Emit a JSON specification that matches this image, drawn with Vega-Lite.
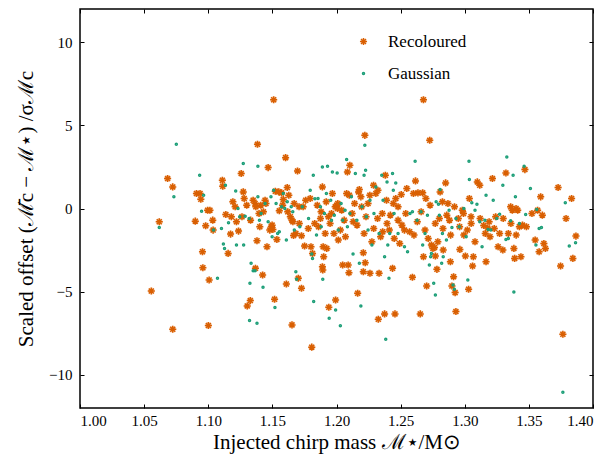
{
  "$schema": "https://vega.github.io/schema/vega-lite/v6.json",
  "width": 513,
  "height": 399,
  "autosize": "none",
  "padding": {"left": 80, "top": 9, "right": 20, "bottom": 47},
  "background": "white",
  "config": {
    "view": {"stroke": "black", "strokeWidth": 1.5},
    "font": "Liberation Serif",
    "axis": {"grid": false, "domain": false, "tickColor": "black", "tickSize": 4, "tickWidth": 1, "offset": -4, "labelColor": "black", "labelFont": "Liberation Serif", "labelFontSize": 15, "titleFont": "Liberation Serif", "titleFontWeight": "normal", "titleColor": "black", "titleFontSize": 21},
    "legend": {"labelFont": "Liberation Serif", "labelFontSize": 17, "labelColor": "black"}
  },
  "data": {"values": [
    {"m":1.0556,"d":-4.96,"s":"Recoloured"},{"m":1.0618,"d":-0.8,"s":"Recoloured"},{"m":1.0683,"d":1.8,"s":"Recoloured"},{"m":1.0723,"d":1.3,"s":"Recoloured"},{"m":1.0723,"d":-7.26,"s":"Recoloured"},
    {"m":1.0899,"d":-0.76,"s":"Recoloured"},{"m":1.0908,"d":0.9,"s":"Recoloured"},{"m":1.0936,"d":0.9,"s":"Recoloured"},{"m":1.0942,"d":0.56,"s":"Recoloured"},{"m":1.0955,"d":-2.6,"s":"Recoloured"},
    {"m":1.0958,"d":-3.56,"s":"Recoloured"},{"m":1.098,"d":-1.04,"s":"Recoloured"},{"m":1.0995,"d":-0.1,"s":"Recoloured"},{"m":1.1013,"d":-0.1,"s":"Recoloured"},{"m":1.1007,"d":-4.3,"s":"Recoloured"},
    {"m":1.1001,"d":-7.04,"s":"Recoloured"},{"m":1.1035,"d":-0.7,"s":"Recoloured"},{"m":1.1038,"d":-1.3,"s":"Recoloured"},{"m":1.111,"d":1.7,"s":"Recoloured"},{"m":1.1113,"d":1.34,"s":"Recoloured"},
    {"m":1.1137,"d":-0.36,"s":"Recoloured"},{"m":1.1155,"d":-2.7,"s":"Recoloured"},{"m":1.1174,"d":-1.54,"s":"Recoloured"},{"m":1.1192,"d":0.4,"s":"Recoloured"},{"m":1.121,"d":0.1,"s":"Recoloured"},
    {"m":1.1236,"d":-1.36,"s":"Recoloured"},{"m":1.1257,"d":2.1,"s":"Recoloured"},{"m":1.1263,"d":-0.5,"s":"Recoloured"},{"m":1.1273,"d":1.0,"s":"Recoloured"},{"m":1.128,"d":0.6,"s":"Recoloured"},
    {"m":1.1304,"d":-5.86,"s":"Recoloured"},{"m":1.1328,"d":-5.54,"s":"Recoloured"},{"m":1.135,"d":0.5,"s":"Recoloured"},{"m":1.1365,"d":0.3,"s":"Recoloured"},{"m":1.1371,"d":0.1,"s":"Recoloured"},
    {"m":1.1368,"d":-3.6,"s":"Recoloured"},{"m":1.138,"d":-1.94,"s":"Recoloured"},{"m":1.1384,"d":3.86,"s":"Recoloured"},{"m":1.1396,"d":-0.3,"s":"Recoloured"},{"m":1.1402,"d":-1.1,"s":"Recoloured"},
    {"m":1.1424,"d":-4.0,"s":"Recoloured"},{"m":1.1443,"d":0.5,"s":"Recoloured"},{"m":1.1458,"d":-2.3,"s":"Recoloured"},{"m":1.1467,"d":2.46,"s":"Recoloured"},{"m":1.1492,"d":-1.1,"s":"Recoloured"},
    {"m":1.1498,"d":-1.0,"s":"Recoloured"},{"m":1.1504,"d":-1.26,"s":"Recoloured"},{"m":1.151,"d":6.54,"s":"Recoloured"},{"m":1.1517,"d":-5.46,"s":"Recoloured"},{"m":1.1523,"d":1.04,"s":"Recoloured"},
    {"m":1.1535,"d":-1.86,"s":"Recoloured"},{"m":1.1554,"d":-0.14,"s":"Recoloured"},{"m":1.1572,"d":0.94,"s":"Recoloured"},{"m":1.1585,"d":0.54,"s":"Recoloured"},{"m":1.1603,"d":3.06,"s":"Recoloured"},
    {"m":1.1609,"d":-4.54,"s":"Recoloured"},{"m":1.1616,"d":1.26,"s":"Recoloured"},{"m":1.1628,"d":0.8,"s":"Recoloured"},{"m":1.164,"d":-0.5,"s":"Recoloured"},{"m":1.1653,"d":-0.7,"s":"Recoloured"},
    {"m":1.166,"d":-0.8,"s":"Recoloured"},{"m":1.1653,"d":-7.0,"s":"Recoloured"},{"m":1.1665,"d":-1.62,"s":"Recoloured"},{"m":1.1683,"d":-1.5,"s":"Recoloured"},{"m":1.1696,"d":2.26,"s":"Recoloured"},
    {"m":1.1702,"d":-4.2,"s":"Recoloured"},{"m":1.1708,"d":0.1,"s":"Recoloured"},{"m":1.1727,"d":-1.64,"s":"Recoloured"},{"m":1.1727,"d":-4.8,"s":"Recoloured"},{"m":1.174,"d":0.1,"s":"Recoloured"},
    {"m":1.1751,"d":-2.26,"s":"Recoloured"},{"m":1.1795,"d":0.6,"s":"Recoloured"},{"m":1.1801,"d":-2.3,"s":"Recoloured"},{"m":1.1807,"d":-8.34,"s":"Recoloured"},{"m":1.1813,"d":-2.7,"s":"Recoloured"},
    {"m":1.186,"d":-1.1,"s":"Recoloured"},{"m":1.1875,"d":-0.6,"s":"Recoloured"},{"m":1.189,"d":1.3,"s":"Recoloured"},{"m":1.189,"d":-3.5,"s":"Recoloured"},{"m":1.1893,"d":-3.7,"s":"Recoloured"},
    {"m":1.1896,"d":-2.3,"s":"Recoloured"},{"m":1.19,"d":-2.9,"s":"Recoloured"},{"m":1.1912,"d":-1.5,"s":"Recoloured"},{"m":1.1924,"d":-2.4,"s":"Recoloured"},{"m":1.1937,"d":-0.5,"s":"Recoloured"},
    {"m":1.194,"d":-5.94,"s":"Recoloured"},{"m":1.1961,"d":-0.3,"s":"Recoloured"},{"m":1.1968,"d":0.9,"s":"Recoloured"},{"m":1.199,"d":0.1,"s":"Recoloured"},{"m":1.2002,"d":0.2,"s":"Recoloured"},
    {"m":1.2008,"d":0.0,"s":"Recoloured"},{"m":1.1993,"d":-5.5,"s":"Recoloured"},{"m":1.2014,"d":-1.9,"s":"Recoloured"},{"m":1.203,"d":-1.3,"s":"Recoloured"},{"m":1.2048,"d":-3.4,"s":"Recoloured"},
    {"m":1.206,"d":-0.7,"s":"Recoloured"},{"m":1.2079,"d":0.9,"s":"Recoloured"},{"m":1.2085,"d":2.2,"s":"Recoloured"},{"m":1.2091,"d":-3.4,"s":"Recoloured"},{"m":1.2097,"d":-3.86,"s":"Recoloured"},
    {"m":1.2104,"d":2.6,"s":"Recoloured"},{"m":1.2122,"d":-0.3,"s":"Recoloured"},{"m":1.2141,"d":0.3,"s":"Recoloured"},{"m":1.2165,"d":-5.1,"s":"Recoloured"},{"m":1.2172,"d":1.0,"s":"Recoloured"},
    {"m":1.2178,"d":1.14,"s":"Recoloured"},{"m":1.2196,"d":0.1,"s":"Recoloured"},{"m":1.2209,"d":-2.66,"s":"Recoloured"},{"m":1.2209,"d":-3.8,"s":"Recoloured"},{"m":1.2215,"d":-1.5,"s":"Recoloured"},
    {"m":1.2221,"d":4.4,"s":"Recoloured"},{"m":1.2224,"d":-3.26,"s":"Recoloured"},{"m":1.2246,"d":0.3,"s":"Recoloured"},{"m":1.2261,"d":-3.9,"s":"Recoloured"},{"m":1.2276,"d":-2.0,"s":"Recoloured"},
    {"m":1.2289,"d":1.4,"s":"Recoloured"},{"m":1.2307,"d":0.9,"s":"Recoloured"},{"m":1.2323,"d":1.1,"s":"Recoloured"},{"m":1.2326,"d":-6.66,"s":"Recoloured"},{"m":1.2332,"d":-3.9,"s":"Recoloured"},
    {"m":1.2344,"d":-1.7,"s":"Recoloured"},{"m":1.2357,"d":-0.3,"s":"Recoloured"},{"m":1.2375,"d":-6.34,"s":"Recoloured"},{"m":1.2381,"d":2.0,"s":"Recoloured"},{"m":1.2394,"d":-0.9,"s":"Recoloured"},
    {"m":1.2412,"d":-1.3,"s":"Recoloured"},{"m":1.2437,"d":-3.6,"s":"Recoloured"},{"m":1.2443,"d":0.3,"s":"Recoloured"},{"m":1.2456,"d":-6.34,"s":"Recoloured"},{"m":1.2462,"d":0.6,"s":"Recoloured"},
    {"m":1.248,"d":-0.7,"s":"Recoloured"},{"m":1.2493,"d":-2.1,"s":"Recoloured"},{"m":1.2505,"d":0.84,"s":"Recoloured"},{"m":1.253,"d":-1.3,"s":"Recoloured"},{"m":1.2548,"d":1.2,"s":"Recoloured"},
    {"m":1.2592,"d":-4.14,"s":"Recoloured"},{"m":1.2604,"d":-1.6,"s":"Recoloured"},{"m":1.2616,"d":1.66,"s":"Recoloured"},{"m":1.2635,"d":0.94,"s":"Recoloured"},{"m":1.2653,"d":-6.34,"s":"Recoloured"},
    {"m":1.2672,"d":0.94,"s":"Recoloured"},{"m":1.2678,"d":6.54,"s":"Recoloured"},{"m":1.2678,"d":-2.9,"s":"Recoloured"},{"m":1.2697,"d":0.6,"s":"Recoloured"},{"m":1.2703,"d":-4.66,"s":"Recoloured"},
    {"m":1.2715,"d":-1.8,"s":"Recoloured"},{"m":1.2727,"d":4.1,"s":"Recoloured"},{"m":1.274,"d":-2.2,"s":"Recoloured"},{"m":1.2752,"d":-2.4,"s":"Recoloured"},{"m":1.2764,"d":-2.34,"s":"Recoloured"},
    {"m":1.2771,"d":-2.86,"s":"Recoloured"},{"m":1.2783,"d":-3.66,"s":"Recoloured"},{"m":1.2802,"d":-0.6,"s":"Recoloured"},{"m":1.2808,"d":1.0,"s":"Recoloured"},{"m":1.2826,"d":0.4,"s":"Recoloured"},
    {"m":1.2832,"d":-2.5,"s":"Recoloured"},{"m":1.2851,"d":1.54,"s":"Recoloured"},{"m":1.2869,"d":0.3,"s":"Recoloured"},{"m":1.2881,"d":-0.7,"s":"Recoloured"},{"m":1.2888,"d":-3.2,"s":"Recoloured"},
    {"m":1.29,"d":-4.66,"s":"Recoloured"},{"m":1.2913,"d":-4.1,"s":"Recoloured"},{"m":1.2925,"d":-5.06,"s":"Recoloured"},{"m":1.2931,"d":-6.2,"s":"Recoloured"},{"m":1.295,"d":-0.6,"s":"Recoloured"},
    {"m":1.2962,"d":-2.46,"s":"Recoloured"},{"m":1.2981,"d":-0.1,"s":"Recoloured"},{"m":1.2993,"d":-1.6,"s":"Recoloured"},{"m":1.3005,"d":-2.86,"s":"Recoloured"},{"m":1.303,"d":-4.86,"s":"Recoloured"},
    {"m":1.3036,"d":0.6,"s":"Recoloured"},{"m":1.3049,"d":-0.5,"s":"Recoloured"},{"m":1.3061,"d":-3.46,"s":"Recoloured"},{"m":1.3067,"d":-2.9,"s":"Recoloured"},{"m":1.3098,"d":1.6,"s":"Recoloured"},
    {"m":1.3117,"d":1.4,"s":"Recoloured"},{"m":1.3148,"d":-1.02,"s":"Recoloured"},{"m":1.3166,"d":-3.2,"s":"Recoloured"},{"m":1.3179,"d":-1.18,"s":"Recoloured"},{"m":1.3197,"d":-1.7,"s":"Recoloured"},
    {"m":1.3216,"d":1.8,"s":"Recoloured"},{"m":1.3241,"d":-0.5,"s":"Recoloured"},{"m":1.326,"d":-2.3,"s":"Recoloured"},{"m":1.3272,"d":-1.5,"s":"Recoloured"},{"m":1.3297,"d":-2.5,"s":"Recoloured"},
    {"m":1.3321,"d":2.14,"s":"Recoloured"},{"m":1.334,"d":-1.5,"s":"Recoloured"},{"m":1.3358,"d":0.1,"s":"Recoloured"},{"m":1.3371,"d":-0.1,"s":"Recoloured"},{"m":1.3383,"d":-2.4,"s":"Recoloured"},
    {"m":1.3389,"d":-3.0,"s":"Recoloured"},{"m":1.3401,"d":-1.6,"s":"Recoloured"},{"m":1.3413,"d":-0.1,"s":"Recoloured"},{"m":1.3426,"d":-1.1,"s":"Recoloured"},{"m":1.3438,"d":-2.9,"s":"Recoloured"},
    {"m":1.3469,"d":2.34,"s":"Recoloured"},{"m":1.3481,"d":-1.1,"s":"Recoloured"},{"m":1.3524,"d":-0.3,"s":"Recoloured"},{"m":1.3549,"d":-1.9,"s":"Recoloured"},{"m":1.3568,"d":-0.1,"s":"Recoloured"},
    {"m":1.358,"d":-2.6,"s":"Recoloured"},{"m":1.3592,"d":0.7,"s":"Recoloured"},{"m":1.3605,"d":-0.4,"s":"Recoloured"},{"m":1.3617,"d":-2.1,"s":"Recoloured"},{"m":1.3629,"d":-2.4,"s":"Recoloured"},
    {"m":1.3728,"d":1.26,"s":"Recoloured"},{"m":1.3747,"d":-3.46,"s":"Recoloured"},{"m":1.3765,"d":-7.56,"s":"Recoloured"},{"m":1.379,"d":-0.6,"s":"Recoloured"},{"m":1.3833,"d":0.6,"s":"Recoloured"},
    {"m":1.3843,"d":-3.0,"s":"Recoloured"},{"m":1.3867,"d":-1.66,"s":"Recoloured"},
    {"m":1.118,"d":-0.5,"s":"Recoloured"},{"m":1.122,"d":-0.8,"s":"Recoloured"},{"m":1.13,"d":0.2,"s":"Recoloured"},{"m":1.133,"d":-0.7,"s":"Recoloured"},{"m":1.141,"d":0.2,"s":"Recoloured"},
    {"m":1.143,"d":-0.2,"s":"Recoloured"},{"m":1.145,"d":0.3,"s":"Recoloured"},{"m":1.148,"d":-1.3,"s":"Recoloured"},{"m":1.155,"d":1.0,"s":"Recoloured"},{"m":1.158,"d":0.2,"s":"Recoloured"},
    {"m":1.162,"d":-0.2,"s":"Recoloured"},{"m":1.167,"d":0.3,"s":"Recoloured"},{"m":1.171,"d":-0.9,"s":"Recoloured"},{"m":1.176,"d":0.5,"s":"Recoloured"},{"m":1.178,"d":-1.2,"s":"Recoloured"},
    {"m":1.183,"d":-0.9,"s":"Recoloured"},{"m":1.185,"d":0.2,"s":"Recoloured"},{"m":1.188,"d":-0.2,"s":"Recoloured"},{"m":1.192,"d":0.4,"s":"Recoloured"},{"m":1.195,"d":-0.9,"s":"Recoloured"},
    {"m":1.198,"d":-1.5,"s":"Recoloured"},{"m":1.201,"d":0.3,"s":"Recoloured"},{"m":1.204,"d":-0.1,"s":"Recoloured"},{"m":1.207,"d":-1.7,"s":"Recoloured"},{"m":1.21,"d":0.8,"s":"Recoloured"},
    {"m":1.213,"d":-0.8,"s":"Recoloured"},{"m":1.216,"d":-1.0,"s":"Recoloured"},{"m":1.219,"d":0.7,"s":"Recoloured"},{"m":1.223,"d":-0.5,"s":"Recoloured"},{"m":1.226,"d":0.8,"s":"Recoloured"},
    {"m":1.229,"d":-1.2,"s":"Recoloured"},{"m":1.232,"d":-0.6,"s":"Recoloured"},{"m":1.236,"d":-1.4,"s":"Recoloured"},{"m":1.239,"d":0.5,"s":"Recoloured"},{"m":1.242,"d":-0.4,"s":"Recoloured"},
    {"m":1.245,"d":-1.8,"s":"Recoloured"},{"m":1.248,"d":0.1,"s":"Recoloured"},{"m":1.251,"d":-1.0,"s":"Recoloured"},{"m":1.254,"d":-0.3,"s":"Recoloured"},{"m":1.257,"d":-1.4,"s":"Recoloured"},
    {"m":1.26,"d":0.9,"s":"Recoloured"},{"m":1.263,"d":-0.8,"s":"Recoloured"},{"m":1.266,"d":-0.2,"s":"Recoloured"},{"m":1.269,"d":-1.3,"s":"Recoloured"},{"m":1.273,"d":0.2,"s":"Recoloured"},
    {"m":1.277,"d":-0.9,"s":"Recoloured"},{"m":1.279,"d":-2.0,"s":"Recoloured"},{"m":1.283,"d":-1.2,"s":"Recoloured"},{"m":1.286,"d":-0.4,"s":"Recoloured"},{"m":1.289,"d":-1.6,"s":"Recoloured"},
    {"m":1.292,"d":0.1,"s":"Recoloured"},{"m":1.296,"d":-1.1,"s":"Recoloured"},{"m":1.299,"d":-0.3,"s":"Recoloured"},{"m":1.302,"d":-1.3,"s":"Recoloured"},{"m":1.305,"d":-0.9,"s":"Recoloured"},
    {"m":1.308,"d":-2.0,"s":"Recoloured"},{"m":1.312,"d":-0.6,"s":"Recoloured"},{"m":1.316,"d":-1.5,"s":"Recoloured"},{"m":1.319,"d":-0.8,"s":"Recoloured"},{"m":1.323,"d":-1.2,"s":"Recoloured"},
    {"m":1.33,"d":-0.6,"s":"Recoloured"},{"m":1.336,"d":-0.9,"s":"Recoloured"},{"m":1.34,"d":0.0,"s":"Recoloured"},{"m":1.345,"d":-1.0,"s":"Recoloured"},
    {"m":1.0751,"d":3.86,"s":"Gaussian"},{"m":1.0732,"d":0.7,"s":"Gaussian"},{"m":1.0618,"d":-1.14,"s":"Gaussian"},{"m":1.0933,"d":2.0,"s":"Gaussian"},{"m":1.0948,"d":-0.16,"s":"Gaussian"},
    {"m":1.0964,"d":0.8,"s":"Gaussian"},{"m":1.1041,"d":-1.3,"s":"Gaussian"},{"m":1.1072,"d":-4.2,"s":"Gaussian"},{"m":1.1103,"d":-1.2,"s":"Gaussian"},{"m":1.1118,"d":-2.14,"s":"Gaussian"},
    {"m":1.1127,"d":-2.4,"s":"Gaussian"},{"m":1.1134,"d":1.4,"s":"Gaussian"},{"m":1.1158,"d":-0.86,"s":"Gaussian"},{"m":1.1214,"d":1.06,"s":"Gaussian"},{"m":1.122,"d":-2.2,"s":"Gaussian"},
    {"m":1.1232,"d":0.0,"s":"Gaussian"},{"m":1.1245,"d":-0.5,"s":"Gaussian"},{"m":1.1273,"d":2.7,"s":"Gaussian"},{"m":1.1276,"d":-2.2,"s":"Gaussian"},{"m":1.1288,"d":-0.46,"s":"Gaussian"},
    {"m":1.1319,"d":-0.6,"s":"Gaussian"},{"m":1.1325,"d":-4.5,"s":"Gaussian"},{"m":1.1322,"d":-6.74,"s":"Gaussian"},{"m":1.1334,"d":-3.3,"s":"Gaussian"},{"m":1.135,"d":-3.74,"s":"Gaussian"},
    {"m":1.1365,"d":-3.74,"s":"Gaussian"},{"m":1.138,"d":-6.9,"s":"Gaussian"},{"m":1.1387,"d":2.54,"s":"Gaussian"},{"m":1.1387,"d":0.7,"s":"Gaussian"},{"m":1.1399,"d":-0.7,"s":"Gaussian"},
    {"m":1.1412,"d":-0.3,"s":"Gaussian"},{"m":1.1427,"d":-4.74,"s":"Gaussian"},{"m":1.1443,"d":0.3,"s":"Gaussian"},{"m":1.1467,"d":-0.8,"s":"Gaussian"},{"m":1.1489,"d":0.7,"s":"Gaussian"},
    {"m":1.1498,"d":-1.7,"s":"Gaussian"},{"m":1.151,"d":1.1,"s":"Gaussian"},{"m":1.152,"d":-5.96,"s":"Gaussian"},{"m":1.1529,"d":0.3,"s":"Gaussian"},{"m":1.1541,"d":-1.5,"s":"Gaussian"},
    {"m":1.1554,"d":-1.4,"s":"Gaussian"},{"m":1.1572,"d":0.1,"s":"Gaussian"},{"m":1.1585,"d":0.9,"s":"Gaussian"},{"m":1.1597,"d":0.0,"s":"Gaussian"},{"m":1.1609,"d":-1.9,"s":"Gaussian"},
    {"m":1.1616,"d":0.4,"s":"Gaussian"},{"m":1.1647,"d":0.1,"s":"Gaussian"},{"m":1.1659,"d":-0.2,"s":"Gaussian"},{"m":1.1671,"d":-1.3,"s":"Gaussian"},{"m":1.1683,"d":-3.8,"s":"Gaussian"},
    {"m":1.1689,"d":-4.26,"s":"Gaussian"},{"m":1.1714,"d":-1.1,"s":"Gaussian"},{"m":1.1733,"d":0.1,"s":"Gaussian"},{"m":1.1782,"d":-0.6,"s":"Gaussian"},{"m":1.1795,"d":1.1,"s":"Gaussian"},
    {"m":1.1807,"d":-2.74,"s":"Gaussian"},{"m":1.1813,"d":-3.0,"s":"Gaussian"},{"m":1.1819,"d":2.0,"s":"Gaussian"},{"m":1.1822,"d":-5.6,"s":"Gaussian"},{"m":1.1832,"d":0.58,"s":"Gaussian"},
    {"m":1.1844,"d":-1.6,"s":"Gaussian"},{"m":1.1856,"d":0.6,"s":"Gaussian"},{"m":1.1875,"d":0.1,"s":"Gaussian"},{"m":1.1881,"d":-1.1,"s":"Gaussian"},{"m":1.189,"d":2.5,"s":"Gaussian"},
    {"m":1.1893,"d":-4.26,"s":"Gaussian"},{"m":1.1906,"d":-0.3,"s":"Gaussian"},{"m":1.1921,"d":0.9,"s":"Gaussian"},{"m":1.193,"d":2.54,"s":"Gaussian"},{"m":1.1943,"d":-6.6,"s":"Gaussian"},
    {"m":1.1955,"d":0.5,"s":"Gaussian"},{"m":1.1961,"d":-0.7,"s":"Gaussian"},{"m":1.1968,"d":2.2,"s":"Gaussian"},{"m":1.1983,"d":-0.4,"s":"Gaussian"},{"m":1.1993,"d":-6.1,"s":"Gaussian"},
    {"m":1.2005,"d":2.14,"s":"Gaussian"},{"m":1.2014,"d":-1.3,"s":"Gaussian"},{"m":1.203,"d":-7.06,"s":"Gaussian"},{"m":1.2036,"d":0.3,"s":"Gaussian"},{"m":1.2048,"d":-0.7,"s":"Gaussian"},
    {"m":1.2067,"d":-0.1,"s":"Gaussian"},{"m":1.2079,"d":2.94,"s":"Gaussian"},{"m":1.2085,"d":-1.1,"s":"Gaussian"},{"m":1.2104,"d":-0.3,"s":"Gaussian"},{"m":1.2116,"d":0.7,"s":"Gaussian"},
    {"m":1.2129,"d":-2.74,"s":"Gaussian"},{"m":1.2147,"d":2.1,"s":"Gaussian"},{"m":1.2159,"d":-0.7,"s":"Gaussian"},{"m":1.2178,"d":-3.3,"s":"Gaussian"},{"m":1.219,"d":-5.86,"s":"Gaussian"},
    {"m":1.2199,"d":0.1,"s":"Gaussian"},{"m":1.2215,"d":2.0,"s":"Gaussian"},{"m":1.2221,"d":3.8,"s":"Gaussian"},{"m":1.2227,"d":2.3,"s":"Gaussian"},{"m":1.2233,"d":-0.5,"s":"Gaussian"},
    {"m":1.2246,"d":-1.3,"s":"Gaussian"},{"m":1.2261,"d":0.5,"s":"Gaussian"},{"m":1.2276,"d":-2.2,"s":"Gaussian"},{"m":1.2292,"d":-0.3,"s":"Gaussian"},{"m":1.2307,"d":1.3,"s":"Gaussian"},
    {"m":1.2332,"d":-1.5,"s":"Gaussian"},{"m":1.2353,"d":2.0,"s":"Gaussian"},{"m":1.2363,"d":0.5,"s":"Gaussian"},{"m":1.2375,"d":-2.9,"s":"Gaussian"},{"m":1.2384,"d":-7.86,"s":"Gaussian"},
    {"m":1.2394,"d":1.6,"s":"Gaussian"},{"m":1.24,"d":-2.2,"s":"Gaussian"},{"m":1.2409,"d":-4.2,"s":"Gaussian"},{"m":1.2415,"d":-1.5,"s":"Gaussian"},{"m":1.2437,"d":2.1,"s":"Gaussian"},
    {"m":1.2443,"d":1.1,"s":"Gaussian"},{"m":1.2449,"d":-0.3,"s":"Gaussian"},{"m":1.2462,"d":1.54,"s":"Gaussian"},{"m":1.248,"d":-1.5,"s":"Gaussian"},{"m":1.253,"d":-2.3,"s":"Gaussian"},
    {"m":1.2554,"d":-2.6,"s":"Gaussian"},{"m":1.2573,"d":-0.3,"s":"Gaussian"},{"m":1.2592,"d":-0.2,"s":"Gaussian"},{"m":1.2613,"d":2.84,"s":"Gaussian"},{"m":1.2628,"d":-0.7,"s":"Gaussian"},
    {"m":1.2659,"d":-0.2,"s":"Gaussian"},{"m":1.2672,"d":-2.2,"s":"Gaussian"},{"m":1.269,"d":-1.5,"s":"Gaussian"},{"m":1.2709,"d":-0.4,"s":"Gaussian"},{"m":1.2724,"d":-3.4,"s":"Gaussian"},
    {"m":1.2734,"d":-2.9,"s":"Gaussian"},{"m":1.274,"d":-2.7,"s":"Gaussian"},{"m":1.2758,"d":-4.5,"s":"Gaussian"},{"m":1.2771,"d":-5.2,"s":"Gaussian"},{"m":1.2777,"d":0.4,"s":"Gaussian"},
    {"m":1.2795,"d":0.26,"s":"Gaussian"},{"m":1.2802,"d":-0.4,"s":"Gaussian"},{"m":1.2808,"d":1.14,"s":"Gaussian"},{"m":1.282,"d":-3.3,"s":"Gaussian"},{"m":1.2826,"d":-1.5,"s":"Gaussian"},
    {"m":1.2832,"d":-2.9,"s":"Gaussian"},{"m":1.2857,"d":-1.9,"s":"Gaussian"},{"m":1.2878,"d":-0.1,"s":"Gaussian"},{"m":1.29,"d":-1.14,"s":"Gaussian"},{"m":1.2909,"d":-4.6,"s":"Gaussian"},
    {"m":1.2919,"d":-4.86,"s":"Gaussian"},{"m":1.2931,"d":-0.6,"s":"Gaussian"},{"m":1.2956,"d":-1.1,"s":"Gaussian"},{"m":1.2993,"d":0.0,"s":"Gaussian"},{"m":1.3011,"d":-1.7,"s":"Gaussian"},
    {"m":1.3024,"d":-4.3,"s":"Gaussian"},{"m":1.3033,"d":2.84,"s":"Gaussian"},{"m":1.3036,"d":1.74,"s":"Gaussian"},{"m":1.3055,"d":0.34,"s":"Gaussian"},{"m":1.308,"d":-0.1,"s":"Gaussian"},
    {"m":1.3095,"d":0.26,"s":"Gaussian"},{"m":1.3117,"d":-0.8,"s":"Gaussian"},{"m":1.3135,"d":-2.3,"s":"Gaussian"},{"m":1.3157,"d":-0.7,"s":"Gaussian"},{"m":1.3166,"d":0.8,"s":"Gaussian"},
    {"m":1.3182,"d":-1.26,"s":"Gaussian"},{"m":1.3203,"d":-1.3,"s":"Gaussian"},{"m":1.3222,"d":0.5,"s":"Gaussian"},{"m":1.325,"d":-0.6,"s":"Gaussian"},{"m":1.3272,"d":-0.34,"s":"Gaussian"},
    {"m":1.3297,"d":1.4,"s":"Gaussian"},{"m":1.3321,"d":-1.86,"s":"Gaussian"},{"m":1.3328,"d":3.1,"s":"Gaussian"},{"m":1.334,"d":-1.8,"s":"Gaussian"},{"m":1.3358,"d":-0.74,"s":"Gaussian"},
    {"m":1.3377,"d":2.0,"s":"Gaussian"},{"m":1.3383,"d":-5.02,"s":"Gaussian"},{"m":1.3395,"d":0.7,"s":"Gaussian"},{"m":1.3426,"d":-0.9,"s":"Gaussian"},{"m":1.3463,"d":2.54,"s":"Gaussian"},
    {"m":1.3475,"d":-0.36,"s":"Gaussian"},{"m":1.3512,"d":1.2,"s":"Gaussian"},{"m":1.3555,"d":-2.2,"s":"Gaussian"},{"m":1.3561,"d":-0.06,"s":"Gaussian"},{"m":1.358,"d":-1.2,"s":"Gaussian"},
    {"m":1.3598,"d":-1.14,"s":"Gaussian"},{"m":1.3765,"d":-11.06,"s":"Gaussian"},{"m":1.3784,"d":0.34,"s":"Gaussian"},{"m":1.3815,"d":-2.26,"s":"Gaussian"},{"m":1.3864,"d":-2.06,"s":"Gaussian"}
  ]},
  "resolve": {"axis": {"x": "independent", "y": "independent"}},
  "layer": [
    {
      "transform": [{"filter": "datum.s === 'Recoloured'"}],
      "mark": {"type": "point", "shape": "circle", "filled": true, "color": "#f5c4a0", "opacity": 0.5, "size": 50},
      "encoding": {
        "x": {"field": "m", "type": "quantitative", "scale": {"domain": [1.0, 1.4], "nice": false, "zero": false},
              "axis": {"orient": "top", "values": [1.0,1.05,1.1,1.15,1.2,1.25,1.3,1.35,1.4], "labels": false, "title": null}},
        "y": {"field": "d", "type": "quantitative", "scale": {"domain": [-12, 12], "nice": false, "zero": false},
              "axis": {"orient": "right", "values": [-10,-5,0,5,10], "labels": false, "title": null}}
      }
    },
    {
      "mark": {"type": "point", "filled": false, "strokeWidth": 1.5, "opacity": 1},
      "encoding": {
        "x": {"field": "m", "type": "quantitative", "scale": {"domain": [1.0, 1.4], "nice": false, "zero": false},
              "axis": {"orient": "bottom", "values": [1.0,1.05,1.1,1.15,1.2,1.25,1.3,1.35,1.4], "format": ".2f", "labelPadding": 5, "title": "Injected chirp mass ℳ⋆/M⊙", "titlePadding": 3}},
        "y": {"field": "d", "type": "quantitative", "scale": {"domain": [-12, 12], "nice": false, "zero": false},
              "axis": {"orient": "left", "values": [-10,-5,0,5,10], "labelPadding": 8, "title": "Scaled offset  (ℳ̄c − ℳ⋆) /σℳc", "titlePadding": 12}},
        "color": {"field": "s", "type": "nominal", "scale": {"domain": ["Recoloured", "Gaussian"], "range": ["#d95f02", "#1b9e77"]},
                  "legend": {"title": null, "orient": "none", "legendX": 275, "legendY": 24, "rowPadding": 14, "symbolStrokeWidth": 1.5, "labelOffset": 16}},
        "shape": {"field": "s", "type": "nominal", "scale": {"domain": ["Recoloured", "Gaussian"], "range": ["M0,-1L0,1M-1,0L1,0M-0.7,-0.7L0.7,0.7M-0.7,0.7L0.7,-0.7", "circle"]},
                  "legend": {"title": null, "orient": "none", "legendX": 275, "legendY": 24, "rowPadding": 14, "symbolStrokeWidth": 1.5, "labelOffset": 16}},
        "size": {"field": "s", "type": "nominal", "scale": {"domain": ["Recoloured", "Gaussian"], "range": [50, 4]}, "legend": null}
      }
    }
  ]
}
